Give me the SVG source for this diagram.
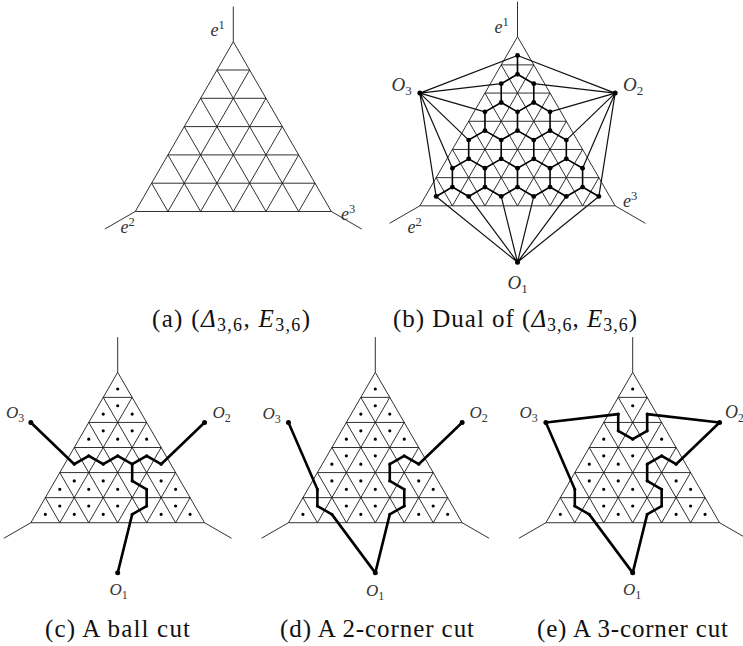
<svg xmlns="http://www.w3.org/2000/svg" width="743" height="646" viewBox="0 0 743 646">
<style>
.g{fill:none;stroke:#1a1a1a;stroke-width:0.9}
.lbl{font-size:18px;fill:#333}
.lo{font-size:19px}
.ls{font-size:17px}
.cap{font-size:25px;fill:#111}
.it{font-style:italic}
.cut{fill:none;stroke:#000;stroke-width:2.6;stroke-linejoin:round;stroke-linecap:round}
.dual{fill:none;stroke:#000;stroke-width:1.6;stroke-linejoin:round}
.oe{fill:none;stroke:#111;stroke-width:1.2}
.nd{fill:#000}
</style>
<defs>
<path id="grid" class="g" vector-effect="non-scaling-stroke" d="M0 0L-6 6M1 1L-4 6M2 2L-2 6M3 3L0 6M4 4L2 6M5 5L4 6M0 0L6 6M-1 1L4 6M-2 2L2 6M-3 3L0 6M-4 4L-2 6M-5 5L-4 6M-1 1H1M-2 2H2M-3 3H3M-4 4H4M-5 5H5M-6 6H6M-6 6l-1.86 .62M6 6l1.86 .62"/>
<path id="top1" class="g" vector-effect="non-scaling-stroke" d="M0 0V-1.24"/>
<path id="top2" class="g" vector-effect="non-scaling-stroke" d="M0 0V-1.4"/>
<path id="dots" fill="none" stroke="#000" stroke-linecap="round" vector-effect="non-scaling-stroke" d="M0 .6667h0M-1 1.6667h0M1 1.6667h0M0 1.3333h0M-2 2.6667h0M0 2.6667h0M2 2.6667h0M-1 2.3333h0M1 2.3333h0M-3 3.6667h0M-1 3.6667h0M1 3.6667h0M3 3.6667h0M-2 3.3333h0M0 3.3333h0M2 3.3333h0M-4 4.6667h0M-2 4.6667h0M0 4.6667h0M2 4.6667h0M4 4.6667h0M-3 4.3333h0M-1 4.3333h0M1 4.3333h0M3 4.3333h0M-5 5.6667h0M-3 5.6667h0M-1 5.6667h0M1 5.6667h0M3 5.6667h0M5 5.6667h0M-4 5.3333h0M-2 5.3333h0M0 5.3333h0M2 5.3333h0M4 5.3333h0"/>
<path id="odots" fill="none" stroke="#000" stroke-linecap="round" vector-effect="non-scaling-stroke" d="M-6 2h0M6 2h0M0 8h0"/>
</defs>

<!-- Panel (a) -->
<g id="panel-a" font-family="Liberation Serif, Times New Roman, serif">
<g transform="translate(233.3 41.7) scale(16.34 28.3)">
<use href="#grid"/><use href="#top1"/>
</g>
<text class="lbl" x="210.5" y="36"><tspan class="it">e</tspan><tspan font-size="12.5" dy="-7">1</tspan></text>
<text class="lbl" x="120.5" y="233"><tspan class="it">e</tspan><tspan font-size="12.5" dy="-7">2</tspan></text>
<text class="lbl" x="341" y="220"><tspan class="it">e</tspan><tspan font-size="12.5" dy="-7">3</tspan></text>
<text class="cap" x="152" y="327" textLength="158" lengthAdjust="spacing">(a) (<tspan class="it">Δ</tspan><tspan font-size="18" dy="4">3,6</tspan><tspan dy="-4">, </tspan><tspan class="it">E</tspan><tspan font-size="18" dy="4">3,6</tspan><tspan dy="-4">)</tspan></text>
</g>

<!-- Panel (b) -->
<g id="panel-b" font-family="Liberation Serif, Times New Roman, serif">
<g transform="translate(517.5 36.7) scale(16.275 28.19)">
<use href="#grid"/><use href="#top1"/>
<g id="connectors-b">
<path class="oe" vector-effect="non-scaling-stroke" d="M-6 2L0 .6667M-6 2L-1 1.6667M-6 2L-2 2.6667M-6 2L-3 3.6667M-6 2L-4 4.6667M-6 2L-5 5.6667M6 2L0 .6667M6 2L1 1.6667M6 2L2 2.6667M6 2L3 3.6667M6 2L4 4.6667M6 2L5 5.6667M0 8L-5 5.6667M0 8L-3 5.6667M0 8L-1 5.6667M0 8L1 5.6667M0 8L3 5.6667M0 8L5 5.6667"/>
<path class="dual" vector-effect="non-scaling-stroke" d="M-1 1.6667L0 1.3333L1 1.6667M0 1.3333V.6667M-2 2.6667L-1 2.3333L0 2.6667L1 2.3333L2 2.6667M-1 2.3333V1.6667M1 2.3333V1.6667M-3 3.6667L-2 3.3333L-1 3.6667L0 3.3333L1 3.6667L2 3.3333L3 3.6667M-2 3.3333V2.6667M0 3.3333V2.6667M2 3.3333V2.6667M-4 4.6667L-3 4.3333L-2 4.6667L-1 4.3333L0 4.6667L1 4.3333L2 4.6667L3 4.3333L4 4.6667M-3 4.3333V3.6667M-1 4.3333V3.6667M1 4.3333V3.6667M3 4.3333V3.6667M-5 5.6667L-4 5.3333L-3 5.6667L-2 5.3333L-1 5.6667L0 5.3333L1 5.6667L2 5.3333L3 5.6667L4 5.3333L5 5.6667M-4 5.3333V4.6667M-2 5.3333V4.6667M0 5.3333V4.6667M2 5.3333V4.6667M4 5.3333V4.6667"/>
</g>
</g>
<g id="nodes-b" class="nd">
<g id="n-r1u0"><circle cx="517.5" cy="55.49" r="2.4"/></g>
<g id="n-r2u0"><circle cx="501.23" cy="83.68" r="2.4"/></g>
<g id="n-r2d0"><circle cx="517.5" cy="74.29" r="2.4"/></g>
<g id="n-r2u1"><circle cx="533.78" cy="83.68" r="2.4"/></g>
<g id="n-r3u0"><circle cx="484.95" cy="111.87" r="2.4"/></g>
<g id="n-r3d0"><circle cx="501.23" cy="102.48" r="2.4"/></g>
<g id="n-r3u1"><circle cx="517.5" cy="111.87" r="2.4"/></g>
<g id="n-r3d1"><circle cx="533.78" cy="102.48" r="2.4"/></g>
<g id="n-r3u2"><circle cx="550.05" cy="111.87" r="2.4"/></g>
<g id="n-r4u0"><circle cx="468.68" cy="140.06" r="2.4"/></g>
<g id="n-r4d0"><circle cx="484.95" cy="130.67" r="2.4"/></g>
<g id="n-r4u1"><circle cx="501.23" cy="140.06" r="2.4"/></g>
<g id="n-r4d1"><circle cx="517.5" cy="130.67" r="2.4"/></g>
<g id="n-r4u2"><circle cx="533.78" cy="140.06" r="2.4"/></g>
<g id="n-r4d2"><circle cx="550.05" cy="130.67" r="2.4"/></g>
<g id="n-r4u3"><circle cx="566.33" cy="140.06" r="2.4"/></g>
<g id="n-r5u0"><circle cx="452.4" cy="168.25" r="2.4"/></g>
<g id="n-r5d0"><circle cx="468.68" cy="158.86" r="2.4"/></g>
<g id="n-r5u1"><circle cx="484.95" cy="168.25" r="2.4"/></g>
<g id="n-r5d1"><circle cx="501.23" cy="158.86" r="2.4"/></g>
<g id="n-r5u2"><circle cx="517.5" cy="168.25" r="2.4"/></g>
<g id="n-r5d2"><circle cx="533.78" cy="158.86" r="2.4"/></g>
<g id="n-r5u3"><circle cx="550.05" cy="168.25" r="2.4"/></g>
<g id="n-r5d3"><circle cx="566.33" cy="158.86" r="2.4"/></g>
<g id="n-r5u4"><circle cx="582.6" cy="168.25" r="2.4"/></g>
<g id="n-r6u0"><circle cx="436.13" cy="196.44" r="2.4"/></g>
<g id="n-r6d0"><circle cx="452.4" cy="187.05" r="2.4"/></g>
<g id="n-r6u1"><circle cx="468.68" cy="196.44" r="2.4"/></g>
<g id="n-r6d1"><circle cx="484.95" cy="187.05" r="2.4"/></g>
<g id="n-r6u2"><circle cx="501.23" cy="196.44" r="2.4"/></g>
<g id="n-r6d2"><circle cx="517.5" cy="187.05" r="2.4"/></g>
<g id="n-r6u3"><circle cx="533.78" cy="196.44" r="2.4"/></g>
<g id="n-r6d3"><circle cx="550.05" cy="187.05" r="2.4"/></g>
<g id="n-r6u4"><circle cx="566.33" cy="196.44" r="2.4"/></g>
<g id="n-r6d4"><circle cx="582.6" cy="187.05" r="2.4"/></g>
<g id="n-r6u5"><circle cx="598.88" cy="196.44" r="2.4"/></g>
<g id="n-O3"><circle cx="419.85" cy="93.08" r="2.5"/></g>
<g id="n-O2"><circle cx="615.15" cy="93.08" r="2.5"/></g>
<g id="n-O1"><circle cx="517.5" cy="262.22" r="2.5"/></g>
</g>
<text class="lbl" x="494.5" y="33"><tspan class="it">e</tspan><tspan font-size="12.5" dy="-7">1</tspan></text>
<text class="lbl" x="407.5" y="233"><tspan class="it">e</tspan><tspan font-size="12.5" dy="-7">2</tspan></text>
<text class="lbl" x="623" y="207"><tspan class="it">e</tspan><tspan font-size="12.5" dy="-7">3</tspan></text>
<text class="lbl lo" x="391.5" y="90.7"><tspan class="it">O</tspan><tspan font-size="13" dy="4">3</tspan></text>
<text class="lbl lo" x="623" y="90.7"><tspan class="it">O</tspan><tspan font-size="13" dy="4">2</tspan></text>
<text class="lbl lo" x="507.5" y="288.7"><tspan class="it">O</tspan><tspan font-size="13" dy="4">1</tspan></text>
<text class="cap" x="393" y="327" textLength="244" lengthAdjust="spacing">(b) Dual of (<tspan class="it">Δ</tspan><tspan font-size="18" dy="4">3,6</tspan><tspan dy="-4">, </tspan><tspan class="it">E</tspan><tspan font-size="18" dy="4">3,6</tspan><tspan dy="-4">)</tspan></text>
</g>

<!-- Panel (c) -->
<g id="panel-c" font-family="Liberation Serif, Times New Roman, serif">
<g transform="translate(117.7 372.3) scale(14.475 25.07)">
<use href="#grid"/><use href="#top2"/>
<use href="#dots" stroke-width="3.2"/>
<g id="connectors-c"><path class="cut" vector-effect="non-scaling-stroke" d="M-6 2L-3 3.6667L-2 3.3333L-1 3.6667L0 3.3333L1 3.6667L2 3.3333L3 3.6667L6 2M1 3.6667L1 4.3333L2 4.6667L2 5.3333L1 5.6667L0 8"/></g>
<use href="#odots" stroke-width="5"/>
</g>
<text class="lbl ls" x="6" y="418"><tspan class="it">O</tspan><tspan font-size="12" dy="3.5">3</tspan></text>
<text class="lbl ls" x="212.5" y="418"><tspan class="it">O</tspan><tspan font-size="12" dy="3.5">2</tspan></text>
<text class="lbl ls" x="109.5" y="595"><tspan class="it">O</tspan><tspan font-size="12" dy="3.5">1</tspan></text>
<text class="cap" x="45" y="637" textLength="145" lengthAdjust="spacing">(c) A ball cut</text>
</g>

<!-- Panel (d) -->
<g id="panel-d" font-family="Liberation Serif, Times New Roman, serif">
<g transform="translate(375.3 372.3) scale(14.475 25.07)">
<use href="#grid"/><use href="#top2"/>
<use href="#dots" stroke-width="3.2"/>
<g id="connectors-d"><path class="cut" vector-effect="non-scaling-stroke" d="M-6 2L-4 4.6667L-4 5.3333L-3 5.6667L0 8M6 2L3 3.6667L2 3.3333L1 3.6667L1 4.3333L2 4.6667L2 5.3333L1 5.6667L0 8"/></g>
<use href="#odots" stroke-width="5"/>
</g>
<text class="lbl ls" x="262.5" y="419"><tspan class="it">O</tspan><tspan font-size="12" dy="3.5">3</tspan></text>
<text class="lbl ls" x="469.5" y="418"><tspan class="it">O</tspan><tspan font-size="12" dy="3.5">2</tspan></text>
<text class="lbl ls" x="366" y="596"><tspan class="it">O</tspan><tspan font-size="12" dy="3.5">1</tspan></text>
<text class="cap" x="280" y="637" textLength="194" lengthAdjust="spacing">(d) A 2-corner cut</text>
</g>

<!-- Panel (e) -->
<g id="panel-e" font-family="Liberation Serif, Times New Roman, serif">
<g transform="translate(632.7 372.3) scale(14.475 25.07)">
<use href="#grid"/><use href="#top2"/>
<use href="#dots" stroke-width="3.2"/>
<g id="connectors-e"><path class="cut" vector-effect="non-scaling-stroke" d="M-6 2L-1 1.6667L-1 2.3333L0 2.6667L1 2.3333L1 1.6667L6 2L3 3.6667L2 3.3333L1 3.6667L1 4.3333L2 4.6667L2 5.3333L1 5.6667L0 8L-3 5.6667L-4 5.3333L-4 4.6667Z"/></g>
<use href="#odots" stroke-width="5"/>
</g>
<text class="lbl ls" x="519.5" y="418"><tspan class="it">O</tspan><tspan font-size="12" dy="3.5">3</tspan></text>
<text class="lbl" x="725" y="418" font-size="16"><tspan class="it">O</tspan><tspan font-size="11.5" dy="3.5">2</tspan></text>
<text class="lbl ls" x="623" y="595"><tspan class="it">O</tspan><tspan font-size="12" dy="3.5">1</tspan></text>
<text class="cap" x="537" y="637" textLength="191" lengthAdjust="spacing">(e) A 3-corner cut</text>
</g>
</svg>
